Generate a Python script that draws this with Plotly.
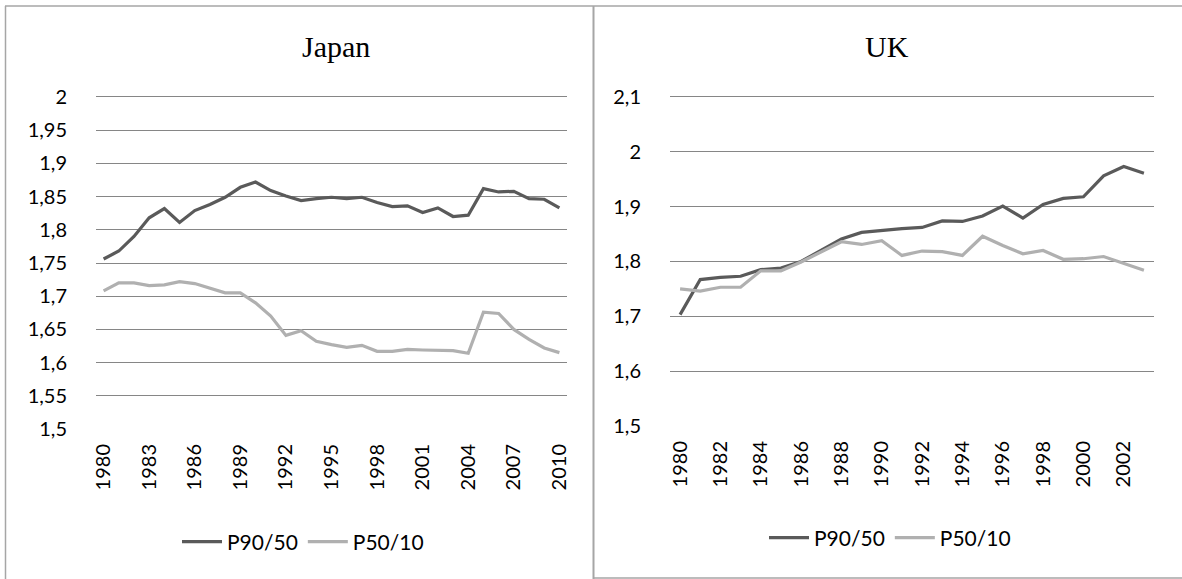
import plotly.graph_objects as go

# ---------------- data ----------------
japan_years = [str(y) for y in range(1980, 2011)]
japan_p9050 = [1.756, 1.768, 1.790, 1.818, 1.832, 1.811, 1.829, 1.838, 1.849, 1.864,
               1.872, 1.859, 1.851, 1.844, 1.847, 1.849, 1.847, 1.849, 1.841, 1.835,
               1.836, 1.826, 1.833, 1.820, 1.822, 1.862, 1.857, 1.858, 1.847, 1.846,
               1.833]
japan_p5010 = [1.708, 1.720, 1.720, 1.716, 1.717, 1.722, 1.719, 1.712, 1.705, 1.705,
               1.690, 1.670, 1.641, 1.648, 1.632, 1.627, 1.623, 1.626, 1.617, 1.617,
               1.620, 1.619, 1.618, 1.618, 1.614, 1.676, 1.674, 1.650, 1.635, 1.622,
               1.615]
japan_xticks = [str(y) for y in range(1980, 2011, 3)]
japan_yticks = [1.5, 1.55, 1.6, 1.65, 1.7, 1.75, 1.8, 1.85, 1.9, 1.95, 2.0]
japan_ylabels = ["1,5", "1,55", "1,6", "1,65", "1,7", "1,75", "1,8", "1,85", "1,9", "1,95", "2"]

uk_years = [str(y) for y in range(1980, 2004)]
uk_p9050 = [1.703, 1.767, 1.771, 1.773, 1.785, 1.788, 1.800, 1.820, 1.841, 1.853,
            1.857, 1.860, 1.862, 1.874, 1.873, 1.883, 1.901, 1.879, 1.904, 1.915,
            1.918, 1.956, 1.973, 1.961]
uk_p5010 = [1.750, 1.746, 1.753, 1.753, 1.783, 1.783, 1.799, 1.818, 1.836, 1.831,
            1.838, 1.811, 1.819, 1.818, 1.811, 1.846, 1.829, 1.814, 1.820, 1.804,
            1.805, 1.809, 1.797, 1.784]
uk_xticks = [str(y) for y in range(1980, 2004, 2)]
uk_yticks = [1.5, 1.6, 1.7, 1.8, 1.9, 2.0, 2.1]
uk_ylabels = ["1,5", "1,6", "1,7", "1,8", "1,9", "2", "2,1"]

series_names = ["P90/50", "P50/10"]
series_colors = ["#5a5a5a", "#b0b0b0"]

# ---------------- figure ----------------
W, H = 1182, 579
TICKFONT = dict(family="Lato, 'Open Sans', sans-serif", size=20, color="#000000")
LEGFONT = dict(family="Lato, 'Open Sans', sans-serif", size=21, color="#000000")
TITLEFONT = dict(family="'Liberation Serif', 'Times New Roman', serif", size=30, color="#000")
GRID = "#868686"
BORDER = "#a6a6a6"


def px(x):
    return x / W


def py(y):
    return 1 - y / H


fig = go.Figure()

for name, vals, col in zip(series_names, [japan_p9050, japan_p5010], series_colors):
    fig.add_trace(go.Scatter(x=japan_years, y=vals, name=name, mode="lines",
                             line=dict(color=col, width=3.2),
                             xaxis="x", yaxis="y", legend="legend"))
for name, vals, col in zip(series_names, [uk_p9050, uk_p5010], series_colors):
    fig.add_trace(go.Scatter(x=uk_years, y=vals, name=name, mode="lines",
                             line=dict(color=col, width=3.2),
                             xaxis="x2", yaxis="y2", legend="legend2"))

common_x = dict(type="category", showgrid=False, zeroline=False, showline=False,
                tickangle=-90, tickfont=TICKFONT, ticks="outside", ticklen=6,
                tickcolor="rgba(0,0,0,0)", fixedrange=True, automargin=False)
common_y = dict(showgrid=True, gridcolor=GRID, gridwidth=1, zeroline=False,
                showline=False, tickfont=TICKFONT, ticks="outside", ticklen=24,
                tickcolor="rgba(0,0,0,0)", fixedrange=True, automargin=False)

fig.update_layout(
    width=W, height=H, autosize=False,
    margin=dict(l=0, r=0, t=0, b=0, pad=0),
    paper_bgcolor="white", plot_bgcolor="white",
    showlegend=True,
    xaxis=dict(common_x, domain=[px(96), px(567)], range=[-0.5, len(japan_years) - 0.5],
               tickmode="array", tickvals=japan_xticks, ticktext=japan_xticks,
               anchor="y"),
    yaxis=dict(common_y, domain=[py(429), py(95)], range=[1.5, 2.003],
               tickmode="array", tickvals=japan_yticks, ticktext=japan_ylabels,
               anchor="x"),
    xaxis2=dict(common_x, domain=[px(670), px(1154)], range=[-0.5, len(uk_years) - 0.5],
                tickmode="array", tickvals=uk_xticks, ticktext=uk_xticks,
                anchor="y2"),
    yaxis2=dict(common_y, domain=[py(426), py(95)], range=[1.5, 2.1035],
                tickmode="array", tickvals=uk_yticks, ticktext=uk_ylabels,
                anchor="x2"),
    legend=dict(orientation="h", x=px(303), xanchor="center", y=py(542), yanchor="middle",
                font=LEGFONT, bgcolor="rgba(0,0,0,0)", itemwidth=40,
                tracegroupgap=0),
    legend2=dict(orientation="h", x=px(890), xanchor="center", y=py(538), yanchor="middle",
                 font=LEGFONT, bgcolor="rgba(0,0,0,0)", itemwidth=40,
                 tracegroupgap=0),
    annotations=[
        dict(text="Japan", x=px(336), y=py(47), xref="paper", yref="paper",
             showarrow=False, xanchor="center", yanchor="middle", font=TITLEFONT),
        dict(text="UK", x=px(887), y=py(47), xref="paper", yref="paper",
             showarrow=False, xanchor="center", yanchor="middle", font=TITLEFONT),
    ],
    shapes=[
        dict(type="line", xref="paper", yref="paper", x0=px(5), x1=1, y0=py(6), y1=py(6),
             line=dict(color=BORDER, width=1.5)),
        dict(type="line", xref="paper", yref="paper", x0=px(5.5), x1=px(5.5), y0=py(6), y1=0,
             line=dict(color=BORDER, width=1.5)),
        dict(type="line", xref="paper", yref="paper", x0=px(593.5), x1=px(593.5), y0=py(6), y1=0,
             line=dict(color=BORDER, width=2)),
        dict(type="line", xref="paper", yref="paper", x0=px(593.5), x1=1, y0=py(578), y1=py(578),
             line=dict(color=BORDER, width=1.5)),
    ],
)

fig.write_html(
    "out.html",
    config={"displayModeBar": False, "staticPlot": True},
    post_script="document.body.style.margin='0';document.body.style.padding='0';"
                "document.documentElement.style.overflow='hidden';"
                "document.body.style.overflow='hidden';",
)
